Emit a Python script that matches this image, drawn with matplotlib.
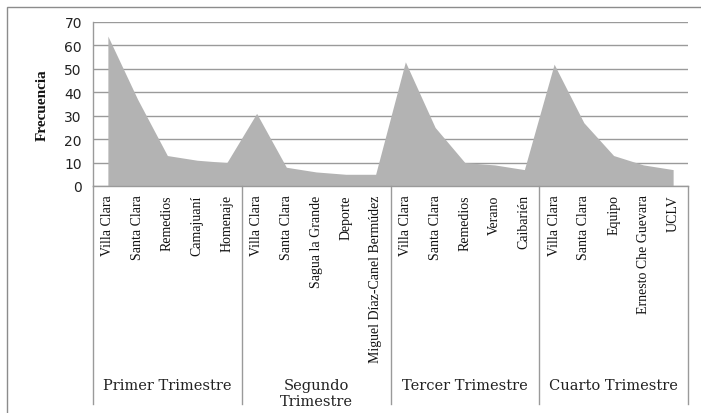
import matplotlib.pyplot as plt
from matplotlib.patches import Rectangle

grupos = ["Primer Trimestre", "Segundo\nTrimestre", "Tercer Trimestre", "Cuarto Trimestre"]
lugares = [
    "Villa Clara", "Santa Clara", "Remedios", "Camajuaní", "Homenaje",
    "Villa Clara", "Santa Clara", "Sagua la Grande", "Deporte", "Miguel Díaz-Canel Bermúdez",
    "Villa Clara", "Santa Clara", "Remedios", "Verano", "Caibarién",
    "Villa Clara", "Santa Clara", "Equipo", "Ernesto Che Guevara", "UCLV",
]
frecuencia = [
    64, 37, 13, 11, 10,
    31, 8, 6, 5, 5,
    53, 25, 10, 9, 7,
    52, 27, 13, 9, 7,
]
por_grupo = 5

fig = plt.figure(figsize=(7.01, 4.14), dpi=100)
ax = fig.add_axes([93 / 701, 1 - 187 / 414, 595 / 701, 164 / 414])

# marco exterior del grafico
fig.patches.append(Rectangle((7 / 701, -0.1), 1.2, 1.1 - 8 / 414,
                             transform=fig.transFigure, fill=False,
                             edgecolor='#8c8c8c', linewidth=1.0))

x = list(range(len(frecuencia)))
ax.fill_between(x, frecuencia, 0, color='#b3b3b3', linewidth=0, zorder=2)

ax.set_xlim(-0.5, len(frecuencia) - 0.5)
ax.set_ylim(0, 70)
ax.set_yticks(range(0, 71, 10))
ax.yaxis.grid(True, color='#9a9a9a', linewidth=1.0, zorder=1)
ax.set_axisbelow(True)
for s in ['top', 'right']:
    ax.spines[s].set_visible(False)
for s in ['left', 'bottom']:
    ax.spines[s].set_color('#9a9a9a')
    ax.spines[s].set_linewidth(1.0)
    ax.spines[s].set_zorder(3)

ax.tick_params(axis='y', length=0, pad=8, labelsize=10, labelcolor='#222222')
ax.set_xticks(x)
ax.set_xticklabels(lugares, rotation=90, va='top', ha='center',
                   fontsize=10, family='Liberation Serif', color='#111111')
ax.tick_params(axis='x', length=0, pad=6)
for lbl in ax.get_yticklabels():
    lbl.set_family('DejaVu Sans')

ax.set_ylabel("Frecuencia", family='Liberation Serif', fontweight='bold',
              fontsize=11, color='#111111', labelpad=11)

# lineas divisorias y nombres de los trimestres
trans = ax.get_xaxis_transform()
for i in range(len(grupos) + 1):
    xb = i * por_grupo - 0.5
    ax.plot([xb, xb], [0, -(405 - 187) / 164], transform=trans,
            color='#9a9a9a', linewidth=1.0, clip_on=False)
for i, g in enumerate(grupos):
    xc = i * por_grupo + (por_grupo - 1) / 2
    ax.text(xc, -(379 - 187) / 164, g, transform=trans, ha='center', va='top',
            family='DejaVu Serif', fontsize=10.5, color='#222222',
            linespacing=1.15)

fig.savefig("out.png", dpi=100)
